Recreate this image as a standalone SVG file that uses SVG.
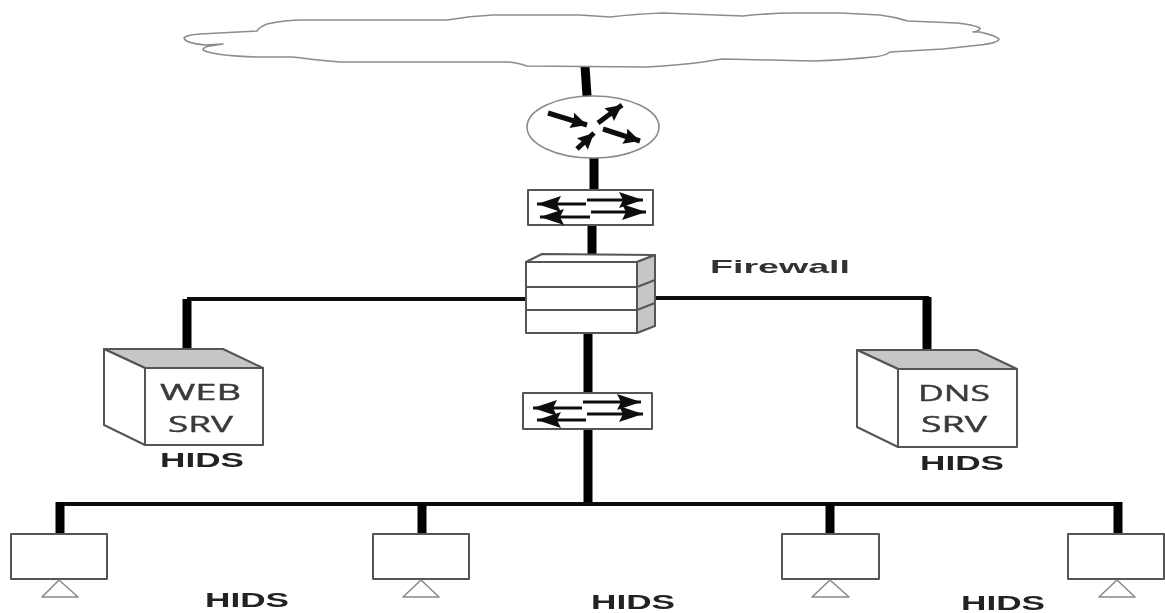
<svg xmlns="http://www.w3.org/2000/svg" width="1165" height="613" viewBox="0 0 1165 613">
<style>
.s{fill:#fff;stroke:#555;stroke-width:2;stroke-linejoin:round}
.d{fill:none;stroke:#555;stroke-width:2;stroke-linejoin:round}
.g{fill:#c6c6c6;stroke:#555;stroke-width:2;stroke-linejoin:round}
.thin{fill:#fff;stroke:#8a8a8a;stroke-width:1.6;stroke-linejoin:round}
.cl{fill:#fff;stroke:#8c8c8c;stroke-width:1.6;stroke-linejoin:round}
.thick{fill:none;stroke:#000;stroke-width:9}
.bus{fill:none;stroke:#111;stroke-width:4}
.sw{stroke:#111;stroke-width:3;fill:none;marker-end:url(#head)}
.ra{stroke:#111;stroke-width:5;fill:none;marker-end:url(#rhead)}
.t{font-family:"Open Sans","Liberation Sans",sans-serif;font-size:21px;fill:#3a3a3a;stroke:#3a3a3a;stroke-width:.4}
.b{font-family:"Liberation Sans",sans-serif;font-size:21px;font-weight:bold;fill:#222}
</style>
<defs>
<filter id="soft" x="-2%" y="-2%" width="104%" height="104%"><feGaussianBlur stdDeviation="0.6"/></filter>
<marker id="head" markerUnits="userSpaceOnUse" markerWidth="28" markerHeight="18" refX="24" refY="8" orient="auto"><path d="M0 0L24 8L0 16L4 8Z" fill="#111"/></marker>
<marker id="rhead" markerUnits="userSpaceOnUse" markerWidth="20" markerHeight="18" refX="18" refY="8" orient="auto"><path d="M2 0L18 8L2 16L4 8Z" fill="#111"/></marker>
</defs>
<rect width="1165" height="613" fill="#fff"/>
<g filter="url(#soft)">
<g id="connectors">
<path class="thick" d="M585 66L587 96"/>
<path class="thick" d="M594 158V190"/>
<path class="thick" d="M592 225V255"/>
<path class="thick" d="M588 333V393"/>
<path class="thick" d="M588 429V504"/>
<path class="bus" d="M187 299H526"/>
<path class="bus" d="M655 298H929"/>
<path class="thick" d="M187 299V350"/>
<path class="thick" d="M927 297V350"/>
<path class="bus" d="M58 504H1120"/>
<path class="thick" d="M60 502V534"/>
<path class="thick" d="M422 504V534"/>
<path class="thick" d="M830 504V534"/>
<path class="thick" d="M1118 502V534"/>
</g>
<g id="cloud">
<path class="cl" d="M184 38Q186 35 200 34L257 31Q258 28 267 24Q285 20 303 20L447 20Q470 16 493 15L580 15L610 17Q635 14 663 13L743 16Q770 13 797 13L840 13L880 15Q895 17 908 21L957 23Q975 25 980 28Q980 31 973 32L980 32Q997 36 999 39Q998 43 980 45L943 49L890 52Q885 56 873 57Q845 60 813 61L723 59Q715 60 703 62Q680 65 647 67L527 66Q515 62 507 62L340 62Q315 60 293 57L257 57Q215 56 203 50Q203 47 210 46L223 44L205 45Q185 43 184 38Z"/>
</g>
<g id="router">
<ellipse class="thin" cx="593" cy="127" rx="66" ry="31"/>
<path class="ra" d="M548 113L587 125"/>
<path class="ra" d="M598 123L622 105"/>
<path class="ra" d="M603 129L640 141"/>
<path class="ra" d="M577 149L594 133"/>
</g>
<g id="switch-top">
<rect class="s" x="528" y="190" width="125" height="35"/>
<path class="sw" d="M587 200H643"/>
<path class="sw" d="M591 212H646"/>
<path class="sw" d="M586 204H537"/>
<path class="sw" d="M590 217H540"/>
</g>
<g id="firewall">
<path class="s" d="M526 262L542 254L655 255L637 262Z"/>
<path class="g" d="M637 262L655 255V326L637 333Z"/>
<rect class="s" x="526" y="262" width="111" height="71"/>
<path class="d" d="M526 287H637L655 280M526 310H637L655 303"/>
</g>
<g id="firewall-label"><text class="b" x="710" y="273" textLength="140" lengthAdjust="spacingAndGlyphs" style="font-size:19px;fill:#333">Firewall</text></g>
<g id="switch-bottom">
<rect class="s" x="523" y="393" width="129" height="36"/>
<path class="sw" d="M583 402H641"/>
<path class="sw" d="M587 414H643"/>
<path class="sw" d="M582 408H533"/>
<path class="sw" d="M586 420H537"/>
</g>
<g id="web-srv">
<path class="g" d="M104 349H223L263 368H145Z"/>
<path class="s" d="M104 349L145 368V445L104 425Z"/>
<rect class="s" x="145" y="368" width="118" height="77"/>
<text class="t" x="160" y="400" textLength="81" lengthAdjust="spacingAndGlyphs">WEB</text>
<text class="t" x="168" y="432" textLength="65" lengthAdjust="spacingAndGlyphs">SRV</text>
<text class="b" x="160" y="467" textLength="84" lengthAdjust="spacingAndGlyphs">HIDS</text>
</g>
<g id="dns-srv">
<path class="g" d="M857 350H977L1017 369H898Z"/>
<path class="s" d="M857 350L898 369V447L857 427Z"/>
<rect class="s" x="898" y="369" width="119" height="78"/>
<text class="t" x="918" y="401" textLength="72" lengthAdjust="spacingAndGlyphs">DNS</text>
<text class="t" x="921" y="432" textLength="66" lengthAdjust="spacingAndGlyphs">SRV</text>
<text class="b" x="920" y="470" textLength="84" lengthAdjust="spacingAndGlyphs">HIDS</text>
</g>
<g id="host-1">
<rect class="s" x="11" y="534" width="96" height="45"/>
<path class="thin" d="M59 580L78 597H42Z"/>
</g>
<g id="host-2">
<rect class="s" x="373" y="534" width="96" height="45"/>
<path class="thin" d="M421 580L439 597H403Z"/>
</g>
<g id="host-3">
<rect class="s" x="782" y="534" width="97" height="45"/>
<path class="thin" d="M830 580L849 597H812Z"/>
</g>
<g id="host-4">
<rect class="s" x="1068" y="534" width="96" height="45"/>
<path class="thin" d="M1117 580L1135 597H1099Z"/>
</g>
<g id="labels">
<text class="b" x="205" y="607" textLength="84" lengthAdjust="spacingAndGlyphs">HIDS</text>
<text class="b" x="591" y="609" textLength="84" lengthAdjust="spacingAndGlyphs">HIDS</text>
<text class="b" x="961" y="610" textLength="84" lengthAdjust="spacingAndGlyphs">HIDS</text>
</g>
</g>
</svg>
